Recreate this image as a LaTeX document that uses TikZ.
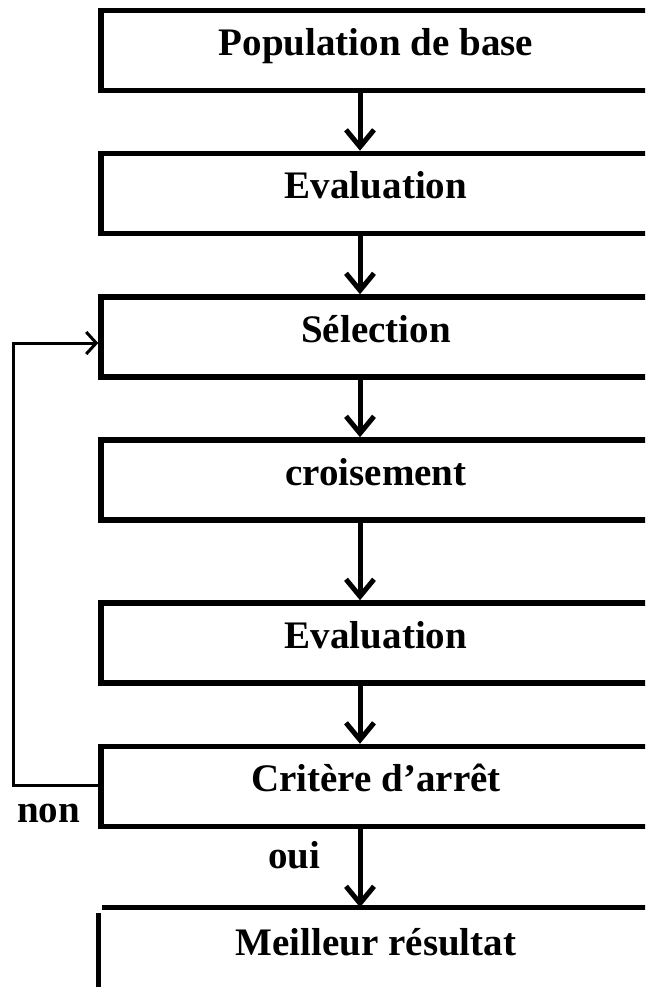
\documentclass[tikz,border=0pt]{standalone}
\usepackage{fontspec}
\setmainfont{Liberation Serif}
\usetikzlibrary{arrows.meta,positioning,calc}

\begin{document}
\begin{tikzpicture}[
        x=1pt, y=-1pt,
        etape/.style={draw, line width=5.5pt, minimum width=560pt, minimum height=80pt,
                      inner sep=0pt, text height=28pt, text depth=18pt,
                      font=\fontsize{39}{44}\selectfont\bfseries},
        fleche/.style={line width=5pt, -{Straight Barb[length=17pt,width=28pt]}},
        retour/.style={line width=3pt, -{Straight Barb[length=10pt,width=22pt]}},
        etiq/.style={inner sep=0pt, anchor=base west, font=\fontsize{39}{44}\selectfont\bfseries}
    ]
        \useasboundingbox (0,0) rectangle (645,987);
        \clip (0,0) rectangle (645,987);
        \coordinate (axe) at (360,0);
        \node[etape, xshift=5pt] (pop) at (376,50.5) {\hspace*{-10pt}Population de base};
        \node[etape, xshift=5pt] (eval1) at (376,193.5) {\hspace*{-10pt}Evaluation};
        \node[etape, xshift=5pt] (sel) at (376,337) {\hspace*{-10pt}Sélection};
        \node[etape, xshift=5pt] (crois) at (376,480) {\hspace*{-10pt}croisement};
        \node[etape, xshift=5pt] (eval2) at (376,643) {\hspace*{-10pt}Evaluation};
        \node[etape, xshift=5pt] (crit) at (376,786.5) {\hspace*{-10pt}Critère d’arrêt};
        \node[etape, xshift=5pt, draw=none] (best) at (376,950) {\hspace*{-10pt}Meilleur résultat};
        % bord ouvert du dernier cadre
        \draw[line width=5.5pt] ([xshift=4pt]best.north west) -- (best.north east);
        \draw[line width=5.5pt] ([yshift=-6pt]best.north west) -- (best.south west);
        \draw[fleche] (pop.south -| axe) -- (eval1.north -| axe);
        \draw[fleche] (eval1.south -| axe) -- (sel.north -| axe);
        \draw[fleche] (sel.south -| axe) -- (crois.north -| axe);
        \draw[fleche] (crois.south -| axe) -- (eval2.north -| axe);
        \draw[fleche] (eval2.south -| axe) -- (crit.north -| axe);
        \draw[fleche] (crit.south -| axe) -- (best.north -| axe);
        % boucle de retour
        \coordinate (gauche) at (13,0);
        \coordinate (entree) at ([yshift=-6pt]sel.west);
        \draw[retour] ([yshift=1.5pt]crit.west) -| (gauche |- entree) -- (entree);
        \node[etiq] (non) at (17,822) {non};
        \node[etiq] (oui) at (268,868) {oui};
\end{tikzpicture}
\end{document}
